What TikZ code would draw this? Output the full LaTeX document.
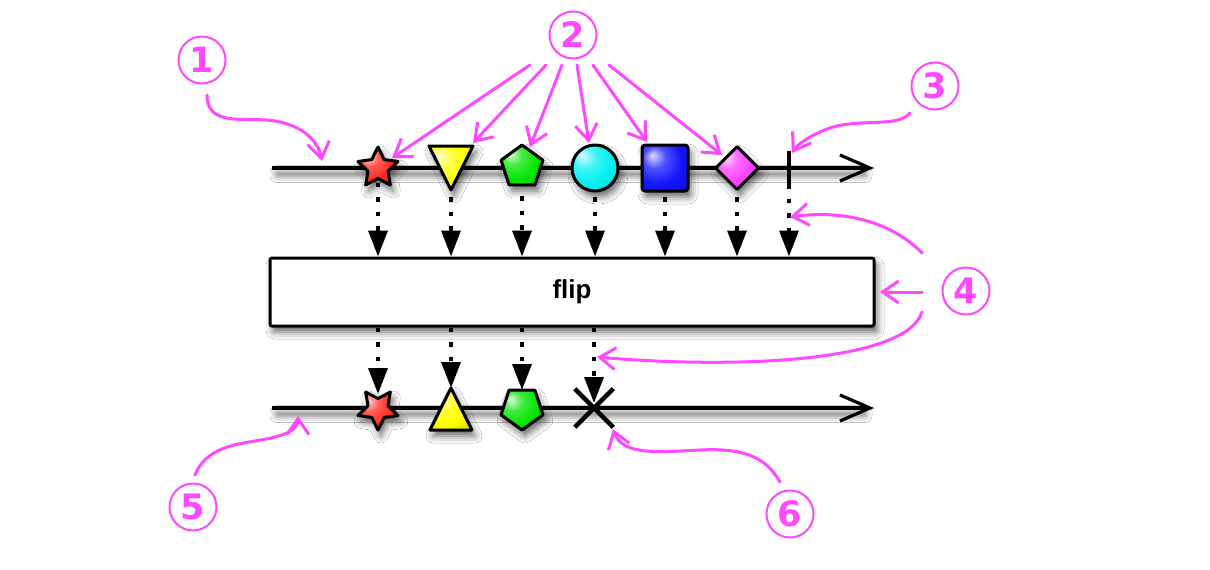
\documentclass[tikz,border=0pt]{standalone}
\usepackage{fontspec}
\setmainfont{Liberation Sans}
\newfontfamily\numfont{DejaVu Sans}
\usetikzlibrary{arrows.meta,shapes.geometric,shapes.misc,shadows.blur}
\definecolor{mag}{RGB}{255,72,255}
\definecolor{cred}{RGB}{255,40,30}
\definecolor{cyel}{RGB}{255,255,0}
\definecolor{cgrn}{RGB}{0,230,0}
\definecolor{ccyn}{RGB}{0,240,240}
\definecolor{cblu}{RGB}{20,20,255}
\definecolor{cpnk}{RGB}{255,60,255}
\makeatletter
\pgfdeclareradialshading[tikz@ball]{glossy}{\pgfpoint{-14bp}{14bp}}{%
 color(0bp)=(tikz@ball!15!white);
 color(12bp)=(tikz@ball!75!white);
 color(26bp)=(tikz@ball);
 color(40bp)=(tikz@ball!85!black);
 color(60bp)=(tikz@ball!65!black)}
\makeatother
\tikzset{
 gl/.style={ball color=#1, shading=glossy},
 shd/.style={blur shadow={shadow xshift=3pt, shadow yshift=-6pt, shadow blur radius=7pt, shadow opacity=60}},
 shp/.style={draw=black, line width=3pt, line join=round, inner sep=0pt, shd},
 mainline/.style={line width=3.2pt, -{Straight Barb[length=30pt,width=26pt]}},
 dotarr/.style={line width=3.4pt, dash pattern=on 4.5pt off 10pt, -{Triangle[length=26pt,width=19pt,fill=black]}},
 marr/.style={draw=mag, line width=3pt, line cap=round, -{Straight Barb[length=16pt,width=22pt]}},
 numc/.style={circle, draw=mag, line width=2pt, minimum size=47pt, inner sep=0pt, text=mag, font=\numfont\bfseries\fontsize{35}{35}\selectfont},
 ghost/.style={inner sep=0pt, minimum size=#1}
}
\begin{document}
\begin{tikzpicture}[x=1pt,y=-1pt]
\useasboundingbox[fill=white] (0,0) rectangle (1210,570);

% main lines
\coordinate (l1s) at (272,168); \coordinate (l1e) at (874,168);
\coordinate (l2s) at (272,408); \coordinate (l2e) at (874,408);
\path[shd] (274,166.5) rectangle (862,169.5);
\path[shd] (274,406.5) rectangle (862,409.5);
\draw[mainline] (l1s) -- (l1e);
\draw[mainline] (l2s) -- (l2e);

% box
\node[draw, line width=3pt, fill=white, rounded corners=2pt, minimum width=604pt, minimum height=68pt, shd,
      font=\bfseries\fontsize{26}{26}\selectfont] (box) at (572,292) {flip};

% shape anchors
\node[ghost=40pt] (t1) at (378,168) {};
\node[ghost=44pt] (t2) at (451,168) {};
\node[ghost=44pt] (t3) at (522,167) {};
\node[ghost=46pt] (t4) at (595,168) {};
\node[ghost=46pt] (t5) at (665,168) {};
\node[ghost=44pt] (t6) at (737,168) {};
\node[inner sep=0pt, minimum width=4pt, minimum height=37pt] (t7) at (789,169.5) {};
\node[ghost=40pt] (b1) at (378,409) {};
\node[ghost=44pt] (b2) at (451,409) {};
\node[ghost=44pt] (b3) at (522,408) {};
\node[ghost=34pt] (b4) at (594,408) {};

% dotted arrows
\foreach \n in {t1,t2,t3,t4,t5,t6,t7}
  \draw[dotarr] (\n.center) -- (\n.center |- box.north);
\draw[dotarr] (box.south -| b1) -- ([yshift=15pt]b1.center);
\draw[dotarr] (box.south -| b2) -- ([yshift=21pt]b2.center);
\draw[dotarr] (box.south -| b3) -- ([yshift=18pt]b3.center);
\draw[dotarr] (box.south -| b4) -- ([yshift=5pt]b4.center);

% top shapes
\node[shp, star, star points=5, star point ratio=2.0, minimum size=42pt, gl=cred] at (t1) {};
\draw[shp, gl=cyel] (429,146) -- (473,146) -- (451,190) -- cycle;
\node[shp, regular polygon, regular polygon sides=5, minimum size=44pt, gl=cgrn] at (t3) {};
\node[shp, circle, minimum size=46pt, gl=ccyn] at (t4) {};
\node[shp, rectangle, rounded corners=3pt, minimum size=46pt, gl=cblu] at (t5) {};
\node[shp, diamond, minimum width=44pt, minimum height=44pt, gl=cpnk] at (t6) {};
\draw[line width=4.5pt] (t7.north) -- (t7.south);

% bottom shapes
\node[shp, star, star points=5, star point ratio=2.0, minimum size=42pt, shape border rotate=180, gl=cred] at (b1) {};
\draw[shp, gl=cyel] (451,388) -- (472,430) -- (430,430) -- cycle;
\node[shp, regular polygon, regular polygon sides=5, minimum size=44pt, shape border rotate=180, gl=cgrn] at (b3) {};
\node[cross out, draw, line width=4.5pt, minimum size=34pt, inner sep=0pt] at (b4) {};

% numbers
\node[numc] (n1) at (202,60) {1};
\node[numc] (n2) at (573,35) {2};
\node[numc] (n3) at (935,86) {3};
\node[numc] (n4) at (966,291) {4};
\node[numc] (n5) at (193,507) {5};
\node[numc] (n6) at (790,514) {6};

% annotation arrows
\coordinate (a1s) at (207,95);  \coordinate (a1e) at (322,161);
\draw[marr] (a1s) .. controls (207,125) and (240,118) .. (265,120) .. controls (300,122) and (318,140) .. (a1e);

\coordinate (a2s1) at (530,65); \coordinate (a2e1) at (392,158);
\coordinate (a2s2) at (546,65); \coordinate (a2e2) at (473,143);
\coordinate (a2s3) at (562,65); \coordinate (a2e3) at (530,147);
\coordinate (a2s4) at (577,65); \coordinate (a2e4) at (589,143);
\coordinate (a2s5) at (593,65); \coordinate (a2e5) at (647,142);
\coordinate (a2s6) at (609,65); \coordinate (a2e6) at (722,155);
\foreach \i in {1,...,6} \draw[marr] (a2s\i) -- (a2e\i);

\coordinate (a3s) at (910,113); \coordinate (a3e) at (792,153);
\draw[marr] (a3s) .. controls (898,128) and (860,118) .. (830,128) .. controls (810,135) and (797,145) .. (a3e);

\coordinate (a4s1) at (922,253); \coordinate (a4e1) at (790,217);
\draw[marr] (a4s1) .. controls (890,220) and (840,210) .. (a4e1);
\coordinate (a4s2) at (922,292); \coordinate (a4e2) at (880,292);
\draw[marr] (a4s2) -- (a4e2);
\coordinate (a4s3) at (922,312); \coordinate (a4e3) at (597,357);
\draw[marr] (a4s3) .. controls (905,365) and (720,368) .. (a4e3);

\coordinate (a5s) at (195,475); \coordinate (a5e) at (298,416);
\draw[marr] (a5s) .. controls (205,450) and (230,445) .. (255,441) .. controls (280,437) and (298,432) .. (a5e);

\coordinate (a6s) at (780,482); \coordinate (a6e) at (613,429);
\draw[marr] (a6s) .. controls (765,455) and (740,448) .. (700,450) .. controls (660,452) and (622,456) .. (a6e);
\end{tikzpicture}
\end{document}
